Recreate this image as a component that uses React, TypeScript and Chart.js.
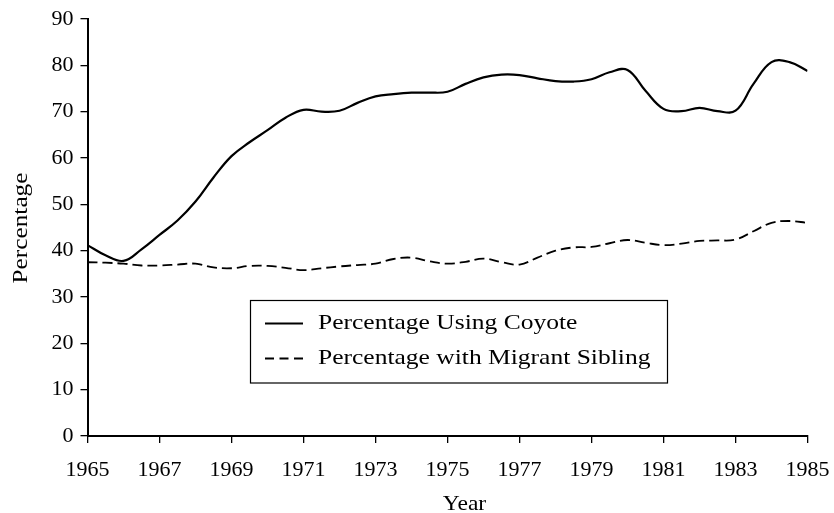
import React, { useEffect, useRef } from "react";
import { Chart, registerables } from "chart.js";

Chart.register(...registerables);

const years = [
  1965, 1965.5, 1966, 1966.5, 1967, 1967.5, 1968, 1968.5, 1969, 1969.5,
  1970, 1970.5, 1971, 1971.5, 1972, 1972.5, 1973, 1973.5, 1974, 1974.5,
  1975, 1975.5, 1976, 1976.5, 1977, 1977.5, 1978, 1978.5, 1979, 1979.5,
  1980, 1980.5, 1981, 1981.5, 1982, 1982.5, 1983, 1983.5, 1984, 1984.5, 1985,
];

const coyote = [
  41.2, 39.0, 37.8, 40.3, 43.4, 46.5, 50.6, 55.8, 60.4, 63.4,
  66.0, 68.7, 70.4, 70.0, 70.2, 71.9, 73.3, 73.8, 74.1, 74.1,
  74.3, 76.0, 77.4, 78.0, 77.9, 77.2, 76.6, 76.5, 77.0, 78.5,
  79.0, 74.5, 70.6, 70.1, 70.8, 70.1, 70.2, 76.0, 80.7, 80.7, 78.8,
];

const sibling = [
  37.5, 37.4, 37.2, 36.8, 36.8, 37.0, 37.2, 36.4, 36.2, 36.7,
  36.7, 36.3, 35.8, 36.2, 36.6, 36.9, 37.2, 38.2, 38.5, 37.7,
  37.2, 37.6, 38.3, 37.5, 37.0, 38.5, 40.0, 40.7, 40.8, 41.6,
  42.3, 41.7, 41.2, 41.5, 42.1, 42.2, 42.4, 44.2, 46.0, 46.4, 46.0,
];

const xTickValues = [1965, 1967, 1969, 1971, 1973, 1975, 1977, 1979, 1981, 1983, 1985];
const yTickValues = [0, 10, 20, 30, 40, 50, 60, 70, 80, 90];
const seriesLabels = ["Percentage Using Coyote", "Percentage with Migrant Sibling"];
const xTitle = "Year";
const yTitle = "Percentage";

const FONT = "'Liberation Serif', 'Times New Roman', serif";

const drawScaledText = (
  ctx: CanvasRenderingContext2D,
  text: string,
  x: number,
  y: number,
  sx: number,
  align: CanvasTextAlign,
  rotation = 0
) => {
  ctx.save();
  ctx.translate(x, y);
  if (rotation) ctx.rotate(rotation);
  ctx.scale(sx, 1);
  ctx.textAlign = align;
  ctx.textBaseline = "middle";
  ctx.fillText(text, 0, 0);
  ctx.restore();
};

const titlesPlugin = {
  id: "axisTitles",
  afterDraw(chart: any) {
    const ctx = chart.ctx as CanvasRenderingContext2D;
    ctx.save();
    ctx.fillStyle = "#000";
    ctx.font = `22px ${FONT}`;
    drawScaledText(ctx, xTitle, 464.5, 504, 1.07, "center");
    drawScaledText(ctx, yTitle, 21, 228, 1.15, "center", -Math.PI / 2);
    ctx.restore();
  },
};

const legendBoxPlugin = {
  id: "legendBox",
  afterDraw(chart: any) {
    const ctx = chart.ctx as CanvasRenderingContext2D;
    const x = 250.5, y = 300.5, w = 417, h = 82.5;
    const rows = [323.5, 358.5];
    const sampleX = 265, sampleW = 38, textX = 318;
    ctx.save();
    ctx.fillStyle = "#fff";
    ctx.fillRect(x, y, w, h);
    ctx.strokeStyle = "#000";
    ctx.lineWidth = 1.2;
    ctx.setLineDash([]);
    ctx.strokeRect(x, y, w, h);
    chart.data.datasets.forEach((ds: any, i: number) => {
      const cy = rows[i];
      ctx.beginPath();
      ctx.setLineDash(ds.borderDash && ds.borderDash.length ? [9, 5.5] : []);
      ctx.lineWidth = ds.borderWidth;
      ctx.strokeStyle = ds.borderColor;
      ctx.moveTo(sampleX, cy);
      ctx.lineTo(sampleX + sampleW, cy);
      ctx.stroke();
      ctx.setLineDash([]);
      ctx.fillStyle = "#000";
      ctx.font = `22px ${FONT}`;
      drawScaledText(ctx, ds.label, textX, cy, 1.16, "left");
    });
    ctx.restore();
  },
};

export default function App() {
  const canvasRef = useRef<HTMLCanvasElement | null>(null);

  useEffect(() => {
    const canvas = canvasRef.current;
    if (!canvas) return;
    Chart.defaults.font.family = FONT;
    Chart.defaults.color = "#000";
    const chart = new Chart(canvas, {
      type: "line",
      data: {
        datasets: [
          {
            label: seriesLabels[0],
            data: years.map((yr, i) => ({ x: yr, y: coyote[i] })),
            borderColor: "#000",
            borderWidth: 2.2,
            pointRadius: 0,
            tension: 0.4,
            fill: false,
          },
          {
            label: seriesLabels[1],
            data: years.map((yr, i) => ({ x: yr, y: sibling[i] })),
            borderColor: "#000",
            borderWidth: 1.8,
            borderDash: [10, 5],
            pointRadius: 0,
            tension: 0.4,
            fill: false,
          },
        ],
      },
      options: {
        animation: false,
        responsive: false,
        devicePixelRatio: 1,
        layout: { padding: { left: 0, top: 19, right: 26.5, bottom: 0 } },
        plugins: { legend: { display: false }, tooltip: { enabled: false } },
        scales: {
          x: {
            type: "linear",
            min: 1965,
            max: 1985,
            afterBuildTicks: (s: any) => {
              s.ticks = xTickValues.map((v) => ({ value: v }));
            },
            afterFit: (s: any) => {
              s.height = 77;
              s.paddingLeft = 0;
              s.paddingRight = 0;
            },
            ticks: {
              font: { size: 22, family: FONT },
              color: "#000",
              padding: 14,
              maxRotation: 0,
              autoSkip: false,
              callback: (v: any) => String(v),
            },
            grid: {
              display: true,
              drawOnChartArea: false,
              drawTicks: true,
              tickLength: 7,
              color: "#000",
              lineWidth: 1.3,
            },
            border: { display: true, color: "#000", width: 2 },
            title: { display: false },
          },
          y: {
            type: "linear",
            min: 0,
            max: 90,
            afterBuildTicks: (s: any) => {
              s.ticks = yTickValues.map((v) => ({ value: v }));
            },
            afterFit: (s: any) => {
              s.width = 87.5;
              s.paddingTop = 0;
              s.paddingBottom = 0;
            },
            ticks: {
              font: { size: 22, family: FONT },
              color: "#000",
              padding: 7,
              callback: (v: any) => String(v),
            },
            grid: {
              display: true,
              drawOnChartArea: false,
              drawTicks: true,
              tickLength: 7,
              color: "#000",
              lineWidth: 1.3,
            },
            border: { display: true, color: "#000", width: 2 },
            title: { display: false },
          },
        },
      },
      plugins: [legendBoxPlugin, titlesPlugin],
    });
    return () => chart.destroy();
  }, []);

  return (
    <div style={{ position: "absolute", left: 0, top: 0, width: 834, height: 513, background: "#fff" }}>
      <canvas ref={canvasRef} width={834} height={513} style={{ display: "block" }} />
    </div>
  );
}
